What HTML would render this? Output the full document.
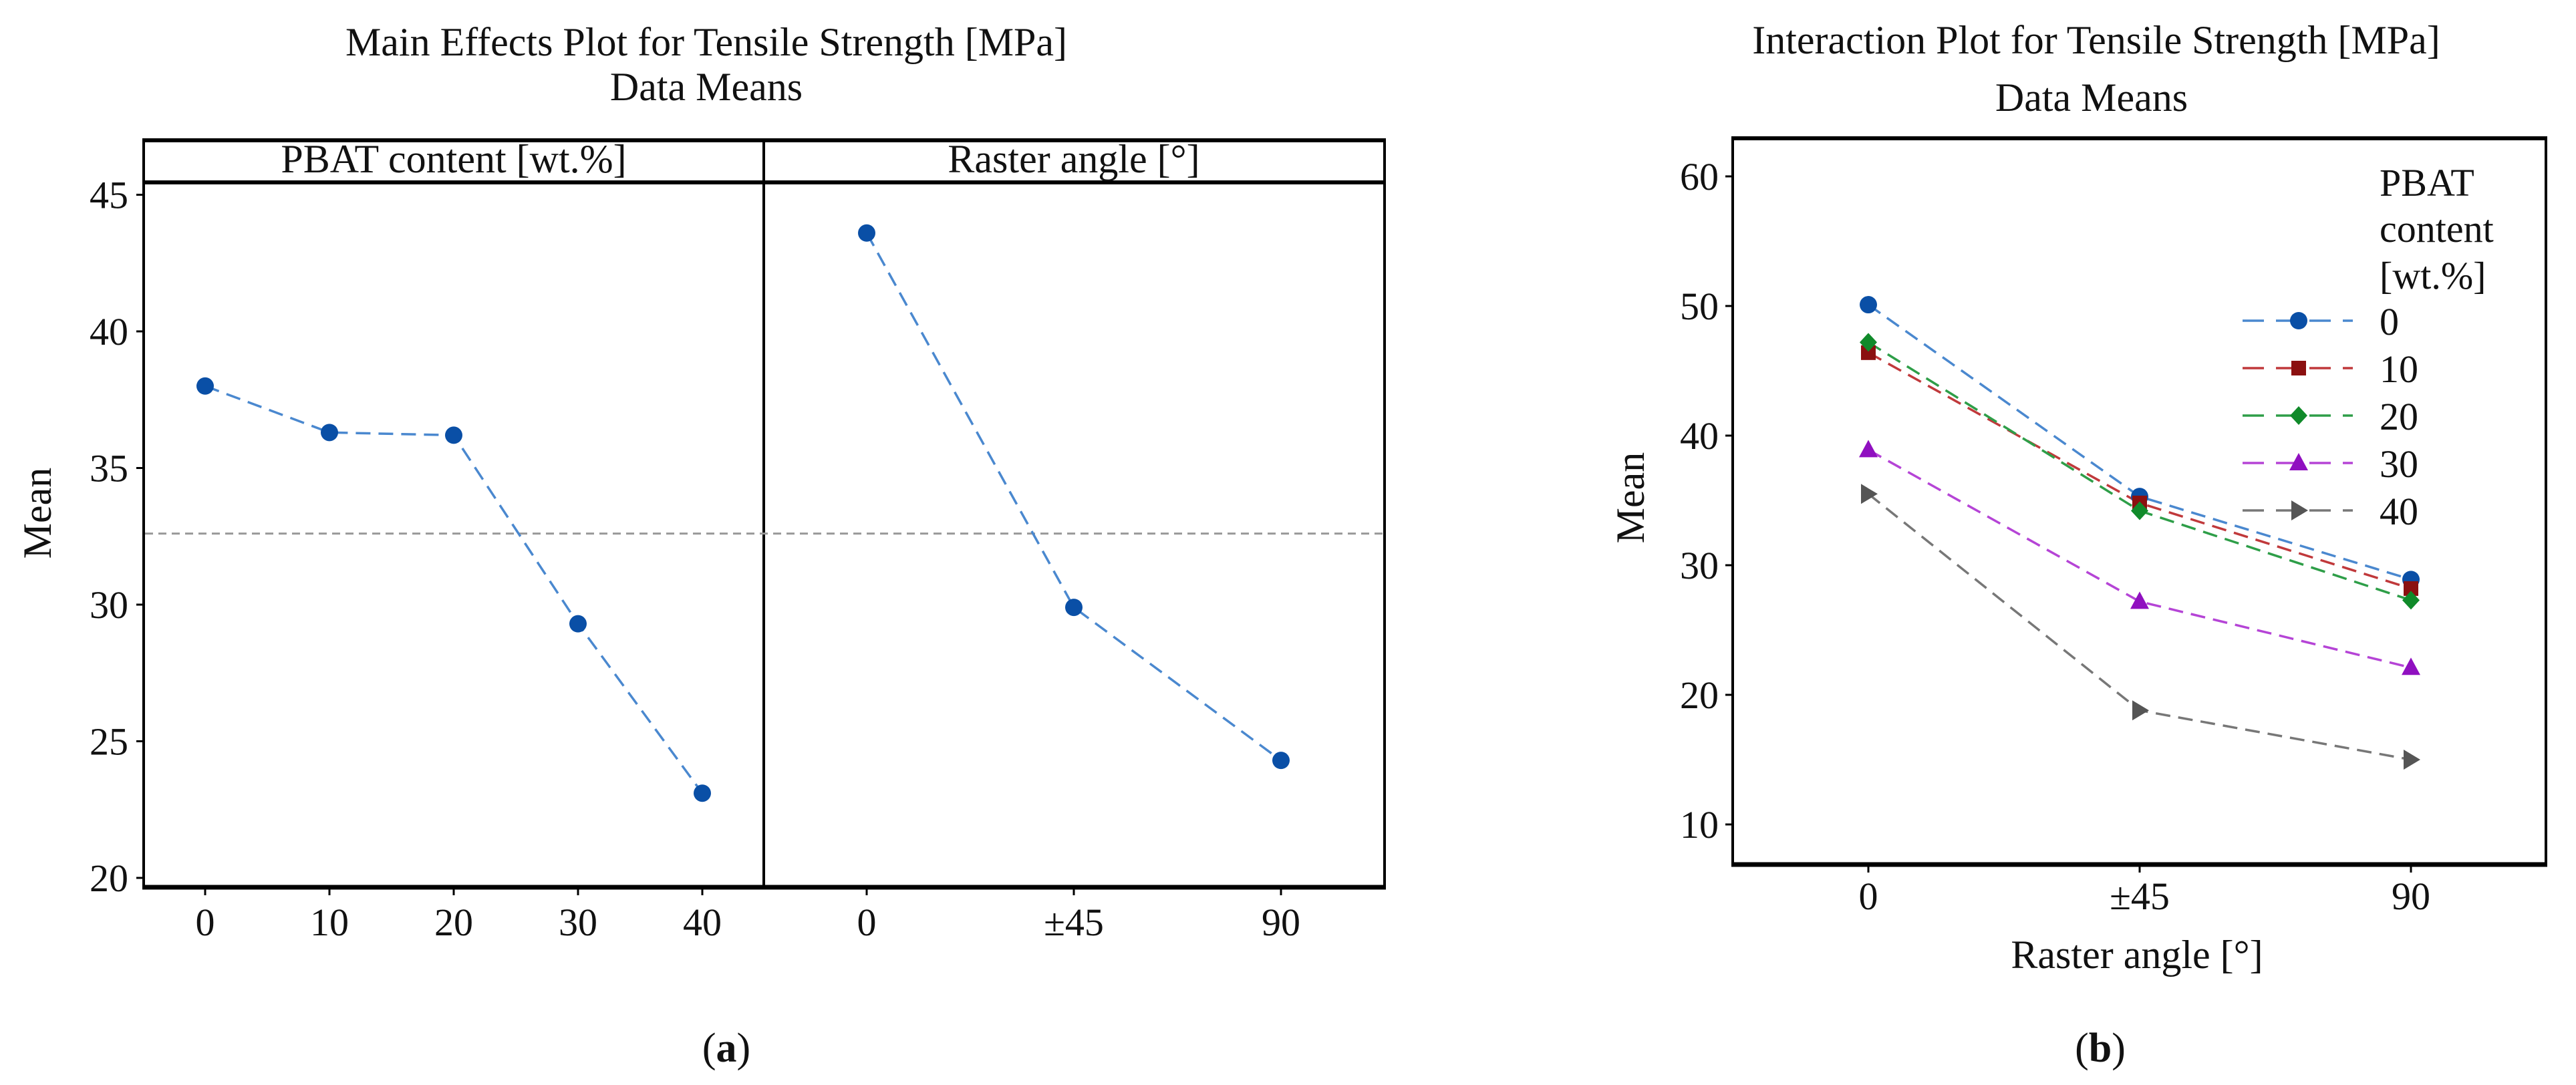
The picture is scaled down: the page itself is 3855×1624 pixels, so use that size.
<!DOCTYPE html>
<html><head><meta charset="utf-8"><style>
html,body{margin:0;padding:0;background:#fff}
svg{display:block}
text{font-family:"Liberation Serif",serif;fill:#111}
</style></head><body>
<svg id="fig" width="3855" height="1624" viewBox="0 0 3855 1624" xmlns="http://www.w3.org/2000/svg">
<g id="a"></g>
<g id="b"></g>
</svg>
<script>
// Panel (a) data
const pbatLevels = ["0","10","20","30","40"];
const pbatMeans = [38.0, 36.3, 36.2, 29.3, 23.1];
const rasterLevels = ["0","±45","90"];
const rasterMeans = [43.6, 29.9, 24.3];
const grandMean = 32.6;
const aTicks = [20,25,30,35,40,45];
// Panel (b) data
const bGroups = ["0","10","20","30","40"];
const bSeries0 = [50.1, 35.3, 28.9];
const bSeries10 = [46.4, 34.8, 28.2];
const bSeries20 = [47.2, 34.2, 27.3];
const bSeries30 = [38.9, 27.2, 22.1];
const bSeries40 = [35.5, 18.8, 15.0];
const bTicks = [10,20,30,40,50,60];

const NS="http://www.w3.org/2000/svg";
function mk(parent, tag, attrs, txt){const e=document.createElementNS(NS,tag);for(const k in attrs)e.setAttribute(k,attrs[k]);if(txt!==undefined)e.textContent=txt;parent.appendChild(e);return e;}

// ---------- Panel A ----------
const A=document.getElementById('a');
const ay=v=>1314-(v-20)*40.9;
const pbX=i=>307+i*186;
const raX=i=>1297+i*310;
let t;
t=mk(A,'text',{x:1057,y:83,'font-size':60,'text-anchor':'middle'},'Main Effects Plot for Tensile Strength [MPa]');

t=mk(A,'text',{x:1057,y:150,'font-size':60,'text-anchor':'middle'},'Data Means');

// strips and box
let r=mk(A,'rect',{x:215,y:210,width:1857,height:1118,fill:'none',stroke:'#000','stroke-width':4});

mk(A,'line',{x1:213,x2:2074,y1:210,y2:210,stroke:'#000','stroke-width':6});
mk(A,'line',{x1:213,x2:2074,y1:273,y2:273,stroke:'#000','stroke-width':6});
mk(A,'line',{x1:213,x2:2074,y1:1328,y2:1328,stroke:'#000','stroke-width':7});
let dv=mk(A,'line',{x1:1143,x2:1143,y1:210,y2:1328,stroke:'#000','stroke-width':4});

t=mk(A,'text',{x:679,y:258,'font-size':60,'text-anchor':'middle'},'PBAT content [wt.%]');

t=mk(A,'text',{x:1607,y:258,'font-size':60,'text-anchor':'middle'},'Raster angle [°]');

// y ticks
aTicks.forEach(v=>{
  mk(A,'line',{x1:204,x2:215,y1:ay(v),y2:ay(v),stroke:'#000','stroke-width':3});
  const l=mk(A,'text',{x:192,y:ay(v)+20,'font-size':58,'text-anchor':'end'},String(v));
  
  
});
t=mk(A,'text',{x:0,y:0,'font-size':60,'text-anchor':'middle',transform:'translate(76,768) rotate(-90)'},'Mean');

// grand mean line
let gm=mk(A,'line',{x1:217,x2:2070,y1:ay(grandMean),y2:ay(grandMean),stroke:'#999','stroke-width':3,'stroke-dasharray':'12 8'});

// x ticks
pbatLevels.forEach((s,i)=>{
  mk(A,'line',{x1:pbX(i),x2:pbX(i),y1:1328,y2:1340,stroke:'#000','stroke-width':3});
  const l=mk(A,'text',{x:pbX(i),y:1400,'font-size':58,'text-anchor':'middle'},s);
  
  
});
rasterLevels.forEach((s,i)=>{
  mk(A,'line',{x1:raX(i),x2:raX(i),y1:1328,y2:1340,stroke:'#000','stroke-width':3});
  const l=mk(A,'text',{x:raX(i),y:1400,'font-size':58,'text-anchor':'middle'},s);
  
  
});
function seriesA(vals,xf,name){
  const p=mk(A,'polyline',{points:vals.map((v,i)=>xf(i)+','+ay(v)).join(' '),fill:'none',stroke:'#4a88cf','stroke-width':3.5,'stroke-dasharray':'22 12'});
  
  
  vals.forEach((v,i)=>{
    const c=mk(A,'circle',{cx:xf(i),cy:ay(v),r:13,fill:'#0a4fa6'});
    
    
  });
}
seriesA(pbatMeans,pbX,'pbat-mean');
seriesA(rasterMeans,raX,'raster-mean');
t=mk(A,'text',{x:1087,y:1589,'font-size':62,'text-anchor':'middle'});
t.innerHTML='(<tspan font-weight="bold">a</tspan>)';


// ---------- Panel B ----------
const B=document.getElementById('b');
const by=v=>1234-(v-10)*19.4;
const bx=i=>2796+i*406;
t=mk(B,'text',{x:3137,y:80,'font-size':60,'text-anchor':'middle'},'Interaction Plot for Tensile Strength [MPa]');

t=mk(B,'text',{x:3130,y:166,'font-size':60,'text-anchor':'middle'},'Data Means');

r=mk(B,'rect',{x:2593,y:207,width:1217,height:1087,fill:'none',stroke:'#000','stroke-width':4});

mk(B,'line',{x1:2591,x2:3812,y1:207,y2:207,stroke:'#000','stroke-width':6});
mk(B,'line',{x1:2591,x2:3812,y1:1294,y2:1294,stroke:'#000','stroke-width':7});
bTicks.forEach(v=>{
  mk(B,'line',{x1:2582,x2:2593,y1:by(v),y2:by(v),stroke:'#000','stroke-width':3});
  const l=mk(B,'text',{x:2572,y:by(v)+20,'font-size':58,'text-anchor':'end'},String(v));
  
  
});
t=mk(B,'text',{x:0,y:0,'font-size':60,'text-anchor':'middle',transform:'translate(2460,745) rotate(-90)'},'Mean');

rasterLevels.forEach((s,i)=>{
  mk(B,'line',{x1:bx(i),x2:bx(i),y1:1294,y2:1306,stroke:'#000','stroke-width':3});
  const l=mk(B,'text',{x:bx(i),y:1361,'font-size':58,'text-anchor':'middle'},s);
  
  
});
t=mk(B,'text',{x:3198,y:1449,'font-size':60,'text-anchor':'middle'},'Raster angle [°]');

const colors=[['#4a88cf','#0a4fa6'],['#c0393b','#8b1010'],['#2e9e48','#108a2a'],['#b544d6','#9010c0'],['#777','#555']];
const shapes=['circle','square','diamond','triangle','arrow'];
function marker(g,shape,x,y,fill){
  let e;
  if(shape==='circle')e=mk(g,'circle',{cx:x,cy:y,r:13,fill:fill});
  else if(shape==='square')e=mk(g,'rect',{x:x-11,y:y-11,width:22,height:22,fill:fill});
  else if(shape==='diamond')e=mk(g,'polygon',{points:`${x},${y-14} ${x+13},${y} ${x},${y+14} ${x-13},${y}`,fill:fill});
  else if(shape==='triangle')e=mk(g,'polygon',{points:`${x},${y-15} ${x+14},${y+11} ${x-14},${y+11}`,fill:fill});
  else e=mk(g,'polygon',{points:`${x-11},${y-15} ${x+14},${y} ${x-11},${y+15}`,fill:fill});
  return e;
}
const allSeries=[bSeries0,bSeries10,bSeries20,bSeries30,bSeries40];
allSeries.forEach((vals,k)=>{
  const p=mk(B,'polyline',{points:vals.map((v,i)=>bx(i)+','+by(v)).join(' '),fill:'none',stroke:colors[k][0],'stroke-width':3.5,'stroke-dasharray':'22 12'});
  
  
});
allSeries.forEach((vals,k)=>{
  vals.forEach((v,i)=>{
    const m=marker(B,shapes[k],bx(i),by(v),colors[k][1]);
    
    
  });
});
// legend
t=mk(B,'text',{x:3561,y:293,'font-size':58},'PBAT');

mk(B,'text',{x:3561,y:362,'font-size':58},'content');
mk(B,'text',{x:3561,y:432,'font-size':58},'[wt.%]');
bGroups.forEach((g,k)=>{
  const y=480+k*71;
  const grp=mk(B,'g',{});
  
  
  mk(grp,'line',{x1:3356,x2:3521,y1:y,y2:y,stroke:colors[k][0],'stroke-width':3.5,'stroke-dasharray':'32 18'});
  marker(grp,shapes[k],3440,y,colors[k][1]);
  mk(grp,'text',{x:3561,y:y+21,'font-size':58},g);
});
t=mk(B,'text',{x:3143,y:1589,'font-size':62,'text-anchor':'middle'});
t.innerHTML='(<tspan font-weight="bold">b</tspan>)';

</script>
</body></html>
